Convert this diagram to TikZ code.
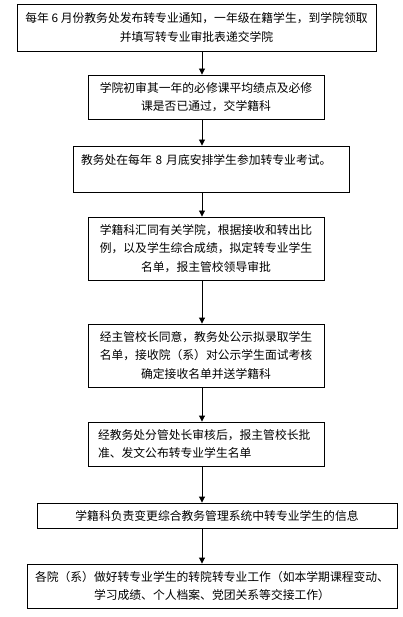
\documentclass[tikz,border=0pt]{standalone}
\usepackage{fontspec}
\setmainfont{Noto Sans CJK SC}
\usetikzlibrary{arrows.meta}
\tikzset{
  box/.style={draw=black, line width=0.9pt, align=center, inner sep=0pt,
    font=\fontsize{11.8}{18.5}\selectfont},
  arr/.style={draw=black, line width=0.9pt, -{Triangle[length=6pt,width=6pt]}}
}
\begin{document}
\begin{tikzpicture}[x=1pt,y=-1pt]
\useasboundingbox (0,0) rectangle (402,617);
\coordinate (ax) at (202,0);
\node[box, minimum width=359pt, minimum height=47pt] (b1) at (196.5,27.5)
  {每年 6 月份教务处发布转专业通知，一年级在籍学生，到学院领取\\并填写转专业审批表递交学院};
\node[box, minimum width=236pt, minimum height=44pt] (b2) at (206,97)
  {学院初审其一年的必修课平均绩点及必修\\课是否已通过，交学籍科};
\node[box, minimum width=276pt, minimum height=46pt, align=left, text width=260pt] (b3) at (211,169)
  {教务处在每年 8 月底安排学生参加转专业考试。\\\mbox{}};
\node[box, minimum width=236pt, minimum height=63pt] (b4) at (206,248.5)
  {学籍科汇同有关学院，根据接收和转出比\\例，以及学生综合成绩，拟定转专业学生\\名单，报主管校领导审批};
\node[box, minimum width=236pt, minimum height=63pt] (b5) at (206,355.5)
  {经主管校长同意，教务处公示拟录取学生\\名单，接收院（系）对公示学生面试考核\\确定接收名单并送学籍科};
\node[box, minimum width=236pt, minimum height=44pt, align=left, text width=216pt] (b6) at (206,444)
  {经教务处分管处长审核后，报主管校长批\\准、发文公布转专业学生名单};
\node[box, minimum width=360pt, minimum height=25pt] (b7) at (217,515.5)
  {学籍科负责变更综合教务管理系统中转专业学生的信息};
\node[box, minimum width=370pt, minimum height=44pt] (b8) at (212,586)
  {各院（系）做好转专业学生的转院转专业工作（如本学期课程变动、\\学习成绩、个人档案、党团关系等交接工作）};
\draw[arr] (b1.south -| ax) -- (b2.north -| ax);
\draw[arr] (b2.south -| ax) -- (b3.north -| ax);
\draw[arr] (b3.south -| ax) -- (b4.north -| ax);
\draw[arr] (b4.south -| ax) -- (b5.north -| ax);
\draw[arr] (b5.south -| ax) -- (b6.north -| ax);
\draw[arr] (b6.south -| ax) -- (b7.north -| ax);
\draw[arr] (b7.south -| ax) -- (b8.north -| ax);
\end{tikzpicture}
\end{document}
